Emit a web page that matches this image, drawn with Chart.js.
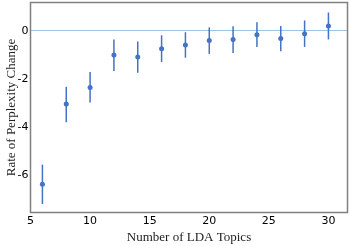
<!DOCTYPE html>
<html>
<head>
<meta charset="utf-8">
<script src="https://cdn.jsdelivr.net/npm/chart.js@4"></script>
<style>
  html, body { margin: 0; padding: 0; background: #fff; }
  #wrap { width: 350px; height: 246px; position: relative; }
</style>
</head>
<body>
<div id="wrap"><canvas id="chart"></canvas></div>
<script>
// ---- data ----
const topics = [6, 8, 10, 12, 14, 16, 18, 20, 22, 24, 26, 28, 30];
const rateMean = [-6.38, -3.04, -2.36, -1.01, -1.09, -0.75, -0.59, -0.40, -0.36, -0.16, -0.32, -0.12, 0.20];
const rateUpper = [-5.56, -2.33, -1.71, -0.36, -0.45, -0.19, -0.06, 0.14, 0.19, 0.35, 0.20, 0.43, 0.76];
const rateLower = [-7.20, -3.80, -2.98, -1.67, -1.74, -1.30, -1.12, -0.96, -0.92, -0.67, -0.85, -0.67, -0.36];

const BLUE = '#4472c4';
const ZERO_LINE = '#9dc3e6';
const FRAME = '#808080';
const SANS = '"DejaVu Sans", sans-serif';
const SERIF = '"Liberation Serif", "DejaVu Serif", serif';

// error bars drawn through the scales, behind the points
const errorBars = {
  id: 'errorBars',
  beforeDatasetsDraw(chart) {
    const { ctx, scales: { x, y } } = chart;
    ctx.save();
    ctx.strokeStyle = BLUE;
    ctx.lineWidth = 1.5;
    topics.forEach((t, i) => {
      const px = x.getPixelForValue(t);
      ctx.beginPath();
      ctx.moveTo(px, y.getPixelForValue(rateUpper[i]));
      ctx.lineTo(px, y.getPixelForValue(rateLower[i]));
      ctx.stroke();
    });
    ctx.restore();
  }
};

// box round the plot area
const frame = {
  id: 'frame',
  afterDraw(chart) {
    const { ctx, chartArea: a } = chart;
    ctx.save();
    ctx.strokeStyle = FRAME;
    ctx.lineWidth = 1.5;
    ctx.strokeRect(a.left, a.top, a.right - a.left, a.bottom - a.top);
    ctx.restore();
  }
};

new Chart(document.getElementById('chart'), {
  type: 'scatter',
  data: {
    datasets: [{
      data: topics.map((t, i) => ({ x: t, y: rateMean[i] })),
      backgroundColor: BLUE,
      borderWidth: 0,
      pointRadius: 2.5,
      pointHoverRadius: 2.5
    }]
  },
  options: {
    responsive: true,
    maintainAspectRatio: false,
    animation: false,
    layout: { padding: { top: 1, right: 2.5, left: 0, bottom: 0 } },
    plugins: {
      legend: { display: false },
      tooltip: { enabled: false }
    },
    scales: {
      x: {
        type: 'linear',
        min: 5,
        max: 31.6,
        border: { display: false },
        grid: { display: false, drawTicks: false },
        ticks: {
          stepSize: 5,
          includeBounds: false,
          padding: 2,
          color: '#000',
          font: { family: SANS, size: 11 }
        },
        title: {
          display: true,
          text: 'Number of LDA Topics',
          color: '#222',
          font: { family: SERIF, size: 13 },
          padding: { top: 0, bottom: 1 }
        },
        afterFit(scale) {
          scale.height = 33.5;
          scale.paddingLeft = 0;
          scale.paddingRight = 0;
        }
      },
      y: {
        min: -7.55,
        max: 1.175,
        border: { display: false },
        grid: {
          drawTicks: false,
          lineWidth: 1,
          color: c => (c.tick && c.tick.value === 0 ? ZERO_LINE : 'rgba(0,0,0,0)')
        },
        ticks: {
          stepSize: 2,
          includeBounds: false,
          padding: 2,
          color: '#000',
          font: { family: SANS, size: 11 }
        },
        title: {
          display: true,
          text: 'Rate of Perplexity Change',
          color: '#222',
          font: { family: SERIF, size: 13 },
          padding: { top: 4, bottom: 0 }
        },
        afterFit(scale) {
          scale.width = 30.5;
          scale.paddingTop = 0;
          scale.paddingBottom = 0;
        }
      }
    }
  },
  plugins: [errorBars, frame]
});
</script>
</body>
</html>
